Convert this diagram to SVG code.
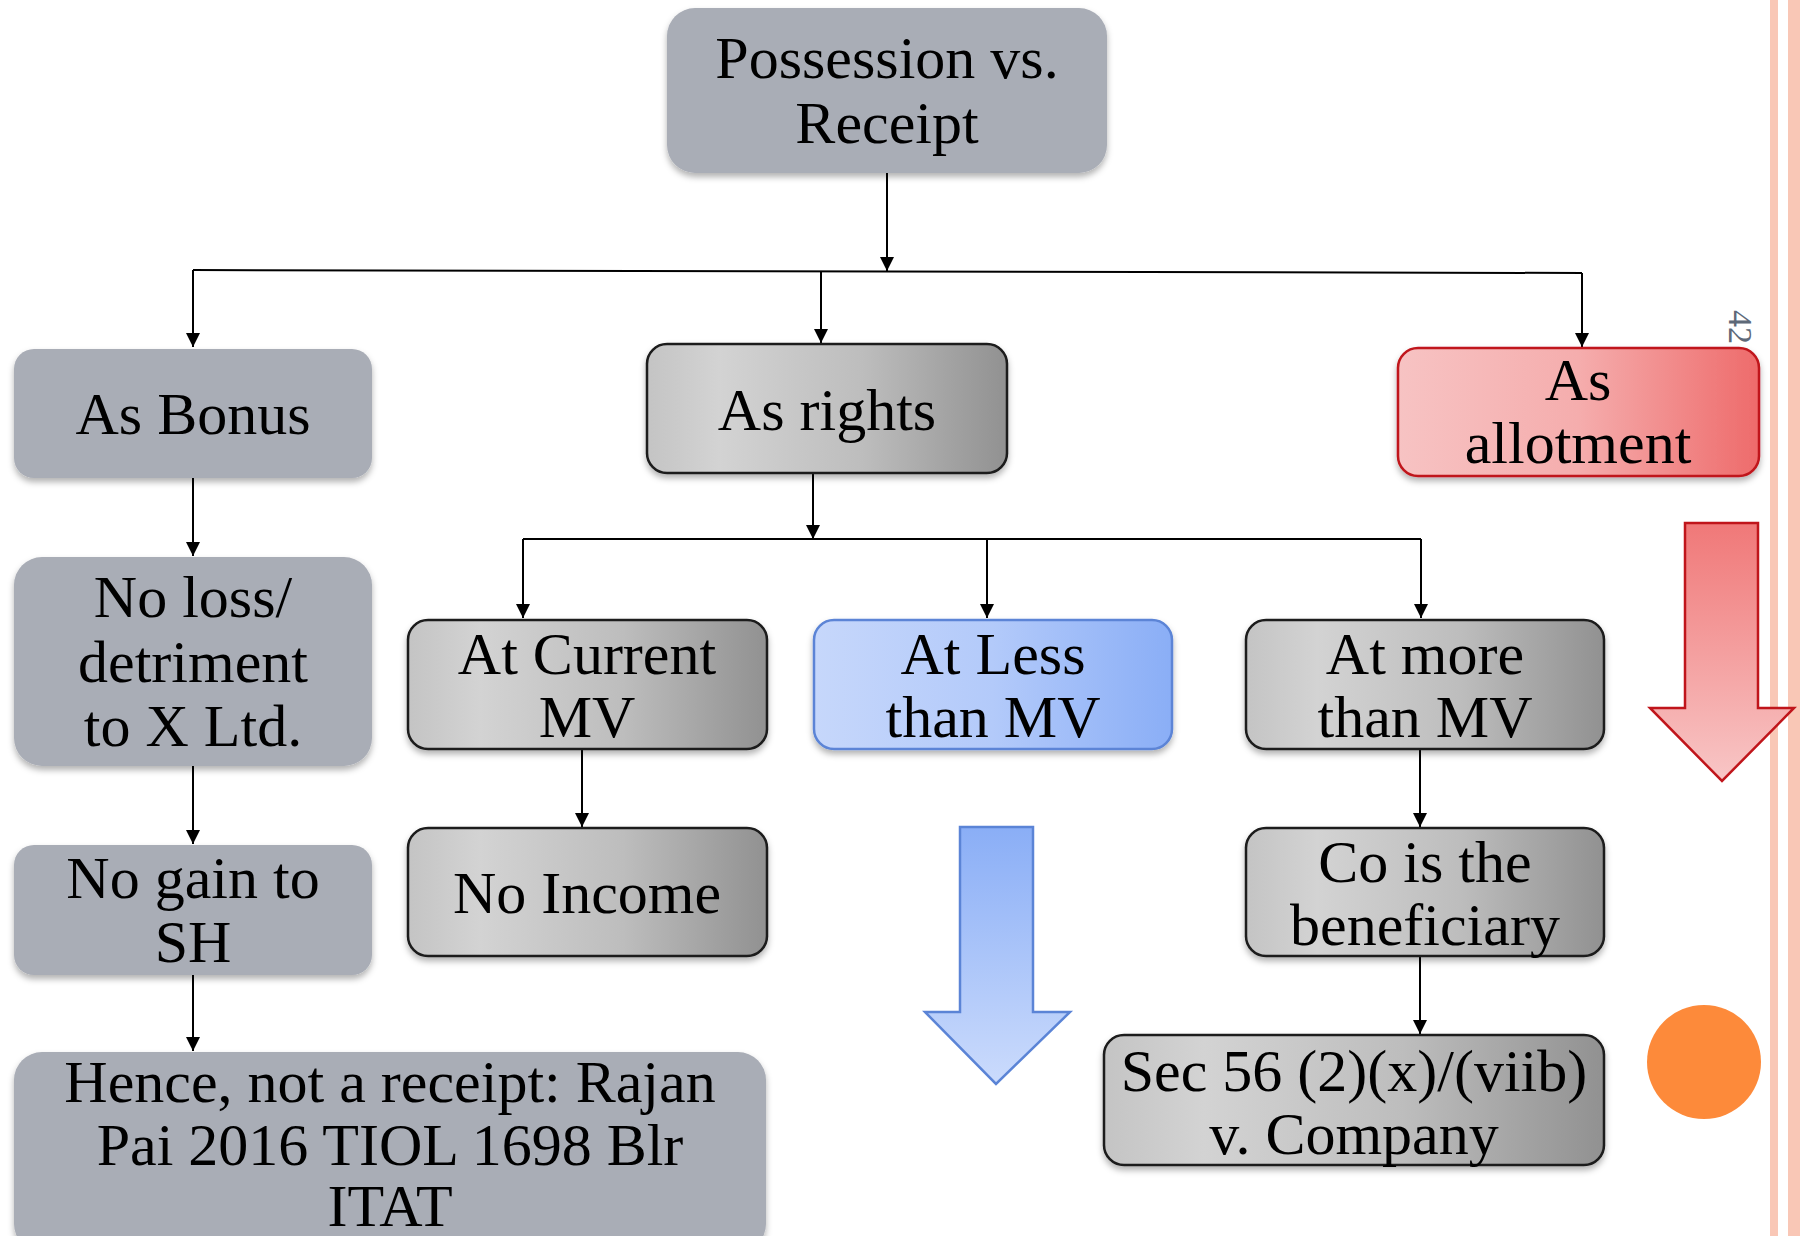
<svg xmlns="http://www.w3.org/2000/svg" width="1800" height="1236" viewBox="0 0 1800 1236">
<defs>
<style>
.t{font-family:"Liberation Serif","Times New Roman",serif;font-size:60px;fill:#000;text-anchor:middle}
.flat{fill:#a9adb6;filter:url(#sh)}
.grad{fill:url(#gGray);stroke:#1a1a1a;stroke-width:2.5;filter:url(#sh)}
.blue{fill:url(#gBlue);stroke:#5b84d6;stroke-width:2.5;filter:url(#sh)}
.red{fill:url(#gRed);stroke:#c0151b;stroke-width:2.5;filter:url(#sh)}
.c{fill:none;stroke:#000;stroke-width:2}
.a{marker-end:url(#ah)}
</style>
<filter id="sh" x="-10%" y="-10%" width="120%" height="130%">
<feDropShadow dx="0" dy="4" stdDeviation="3" flood-color="#000" flood-opacity="0.3"/>
</filter>
<linearGradient id="gGray" x1="0" y1="0" x2="1" y2="0">
<stop offset="0" stop-color="#c4c4c4"/>
<stop offset="0.2" stop-color="#d3d3d3"/>
<stop offset="0.6" stop-color="#bdbdbd"/>
<stop offset="1" stop-color="#919191"/>
</linearGradient>
<linearGradient id="gBlue" x1="0" y1="0" x2="1" y2="0">
<stop offset="0" stop-color="#c6d7fb"/>
<stop offset="0.5" stop-color="#b3cafa"/>
<stop offset="1" stop-color="#8aaef6"/>
</linearGradient>
<linearGradient id="gRed" x1="0" y1="0" x2="1" y2="0">
<stop offset="0" stop-color="#f7c3c3"/>
<stop offset="0.5" stop-color="#f5adad"/>
<stop offset="1" stop-color="#ee6b6b"/>
</linearGradient>
<linearGradient id="gRedV" x1="0" y1="0" x2="0" y2="1">
<stop offset="0" stop-color="#f07878"/>
<stop offset="1" stop-color="#f8c6c6"/>
</linearGradient>
<linearGradient id="gBlueV" x1="0" y1="0" x2="0" y2="1">
<stop offset="0" stop-color="#8aaef6"/>
<stop offset="1" stop-color="#cbdbfc"/>
</linearGradient>
<marker id="ah" markerUnits="userSpaceOnUse" markerWidth="14" markerHeight="16" refX="14" refY="7" orient="auto">
<path d="M0,0 L14,7 L0,14 Z" fill="#000"/>
</marker>
</defs>
<rect width="1800" height="1236" fill="#fff"/>
<rect x="1770" y="0" width="8" height="1236" fill="#f9c7b6"/>
<rect x="1788" y="0" width="12" height="1236" fill="#f9c7b6"/>
<text x="1737" y="327" transform="rotate(90 1737 327)" font-family="Liberation Serif, serif" font-size="34" fill="#5e6978" text-anchor="middle" dominant-baseline="middle">42</text>

<g id="connectors">
<path class="c a" d="M887 170 V271"/>
<path class="c" d="M193 270 L1582 273"/>
<path class="c a" d="M193 270 V347"/>
<path class="c a" d="M821 271 V343"/>
<path class="c a" d="M1582 273 V347"/>
<path class="c a" d="M813 466 V539"/>
<path class="c" d="M523 539 H1421"/>
<path class="c a" d="M523 539 V618"/>
<path class="c a" d="M987 539 V618"/>
<path class="c a" d="M1421 539 V618"/>
<path class="c a" d="M193 478 V556"/>
<path class="c a" d="M193 766 V844"/>
<path class="c a" d="M193 975 V1051"/>
<path class="c a" d="M582 749 V827"/>
<path class="c a" d="M1420 749 V827"/>
<path class="c a" d="M1420 956 V1034"/>
</g>

<g id="n-top"><rect class="flat" x="667" y="8" width="440" height="165" rx="28"/>
<text class="t" x="887" y="78">Possession vs.</text><text class="t" x="887" y="143">Receipt</text></g>

<g id="n-bonus"><rect class="flat" x="14" y="349" width="358" height="129" rx="20"/>
<text class="t" x="193" y="434">As Bonus</text></g>

<g id="n-rights"><rect class="grad" x="647" y="344" width="360" height="129" rx="20"/>
<text class="t" x="827" y="430">As rights</text></g>

<g id="n-allot"><rect class="red" x="1398" y="348" width="361" height="128" rx="20"/>
<text class="t" x="1578" y="400">As</text><text class="t" x="1578" y="463">allotment</text></g>

<g id="n-noloss"><rect class="flat" x="14" y="557" width="358" height="209" rx="28"/>
<text class="t" x="193" y="617">No loss/</text><text class="t" x="193" y="682">detriment</text><text class="t" x="193" y="746">to X Ltd.</text></g>

<g id="n-nogain"><rect class="flat" x="14" y="845" width="358" height="130" rx="20"/>
<text class="t" x="193" y="898">No gain to</text><text class="t" x="193" y="962">SH</text></g>

<g id="n-hence"><rect class="flat" x="14" y="1052" width="752" height="200" rx="28"/>
<text class="t" x="390" y="1102">Hence, not a receipt: Rajan</text><text class="t" x="390" y="1165">Pai 2016 TIOL 1698 Blr</text><text class="t" x="390" y="1226">ITAT</text></g>

<g id="n-current"><rect class="grad" x="408" y="620" width="359" height="129" rx="20"/>
<text class="t" x="587" y="674">At Current</text><text class="t" x="587" y="737">MV</text></g>

<g id="n-noincome"><rect class="grad" x="408" y="828" width="359" height="128" rx="20"/>
<text class="t" x="587" y="913">No Income</text></g>

<g id="n-less"><rect class="blue" x="814" y="620" width="358" height="129" rx="20"/>
<text class="t" x="993" y="674">At Less</text><text class="t" x="993" y="737">than MV</text></g>

<g id="n-more"><rect class="grad" x="1246" y="620" width="358" height="129" rx="20"/>
<text class="t" x="1425" y="674">At more</text><text class="t" x="1425" y="737">than MV</text></g>

<g id="n-co"><rect class="grad" x="1246" y="828" width="358" height="128" rx="20"/>
<text class="t" x="1425" y="882">Co is the</text><text class="t" x="1425" y="945">beneficiary</text></g>

<g id="n-sec"><rect class="grad" x="1104" y="1035" width="500" height="130" rx="20"/>
<text class="t" x="1354" y="1091">Sec 56 (2)(x)/(viib)</text><text class="t" x="1354" y="1154">v. Company</text></g>

<g id="arrow-red"><path d="M1685 523 H1758 V708 H1794 L1722 781 L1650 708 H1685 Z" fill="url(#gRedV)" stroke="#c0151b" stroke-width="2.5"/></g>
<g id="arrow-blue"><path d="M960 827 H1033 V1012 H1070 L996 1084 L925 1012 H960 Z" fill="url(#gBlueV)" stroke="#5b84d6" stroke-width="2.5"/></g>
<g id="dot"><circle cx="1704" cy="1062" r="57" fill="#fd8a3a"/></g>
</svg>
